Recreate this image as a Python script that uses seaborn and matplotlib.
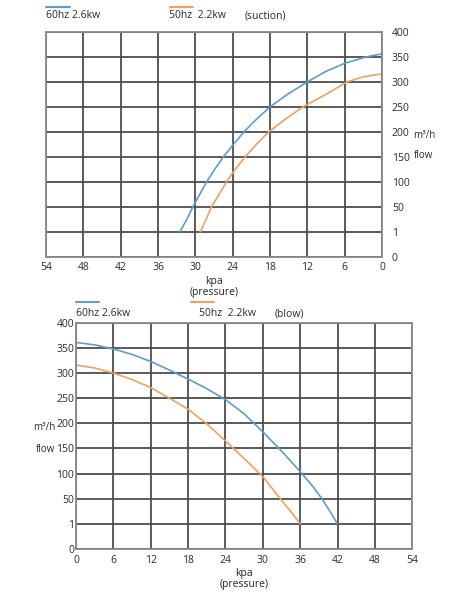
import numpy as np
import pandas as pd
import matplotlib
matplotlib.use("Agg")
import matplotlib.pyplot as plt
from matplotlib.lines import Line2D
import seaborn as sns

# y tick levels (the chart uses an uneven scale: 0, 1, then steps of 50)
y_levels = [0, 1, 50, 100, 150, 200, 250, 300, 350, 400]
x_ticks = [0, 6, 12, 18, 24, 30, 36, 42, 48, 54]

# suction curves (kpa, m3/h)
suc_60_kpa = [32.5, 31.4, 30.4, 29.3, 28.2, 26.9, 25.5, 24, 22.2, 20.2, 18, 15.2, 12, 9, 6, 2.5, 0]
suc_60_flow = [1, 25, 50, 75, 100, 125, 150, 173, 200, 225, 250, 275, 300, 321, 337, 350, 356]
suc_50_kpa = [29.2, 28.3, 27.4, 26.2, 25.0, 23.6, 22.0, 20.2, 18.2, 15.6, 12.7, 9.0, 5.6, 3, 0]
suc_50_flow = [1, 25, 50, 75, 100, 125, 150, 175, 200, 225, 250, 275, 300, 310, 316]

# blow curves (kpa, m3/h)
blow_60_kpa = [0, 3, 6, 9, 12, 15, 18, 21, 24, 27, 30, 33, 36, 38, 39.5, 40.8, 42]
blow_60_flow = [361, 356, 348, 337, 323, 306, 288, 269, 247, 219, 183, 145, 104, 75, 50, 25, 1]
blow_50_kpa = [0, 3, 6, 9, 12, 15, 18, 21, 24, 27, 30, 32.8, 34.5, 36]
blow_50_flow = [316, 310, 300, 287, 271, 250, 228, 199, 165, 130, 94, 50, 25, 1]

BLUE = "#5f9bcf"
ORANGE = "#f0a063"
GRID = "#4d4d4d"

sns.set_style("white")
plt.rcParams["font.family"] = ["Open Sans", "DejaVu Sans"]
plt.rcParams["text.color"] = "#2b2b2b"


def fwd(v):
    return np.interp(v, y_levels, np.arange(len(y_levels)))


def inv(v):
    return np.interp(v, np.arange(len(y_levels)), y_levels)


def make_df(k60, f60, k50, f50):
    a = pd.DataFrame({"kpa": k60, "flow": f60, "s": "60hz"})
    b = pd.DataFrame({"kpa": k50, "flow": f50, "s": "50hz"})
    return pd.concat([a, b], ignore_index=True)


def style_ax(ax, ypad):
    ax.set_yscale("function", functions=(fwd, inv))
    ax.set_ylim(0, 400)
    ax.set_yticks(y_levels)
    ax.set_yticklabels([str(v) for v in y_levels])
    ax.set_xticks(x_ticks)
    ax.set_xticklabels([str(v) for v in x_ticks])
    ax.grid(True, color=GRID, linewidth=1.3)
    ax.set_axisbelow(True)
    for sp in ax.spines.values():
        sp.set_color("#888888")
        sp.set_linewidth(1.3)
    ax.tick_params(axis="both", labelsize=7.5, colors="#2b2b2b", length=0)
    ax.tick_params(axis="x", pad=4)
    ax.tick_params(axis="y", pad=ypad)
    ax.set_xlabel("kpa\n(pressure)", fontsize=7.5, linespacing=1.0, labelpad=2)
    ax.set_ylabel("")
    if ax.get_legend():
        ax.get_legend().remove()


fig = plt.figure(figsize=(4.7, 6), dpi=100)

# top: suction
ax1 = fig.add_axes([0.098, 0.572, 0.715, 0.375])
sns.lineplot(data=make_df(suc_60_kpa, suc_60_flow, suc_50_kpa, suc_50_flow),
             x="kpa", y="flow", hue="s", palette={"60hz": BLUE, "50hz": ORANGE},
             sort=False, linewidth=1.2, ax=ax1)
style_ax(ax1, 7)
ax1.set_xlim(54, 0)
ax1.yaxis.tick_right()

# bottom: blow
ax2 = fig.add_axes([0.162, 0.085, 0.715, 0.377])
sns.lineplot(data=make_df(blow_60_kpa, blow_60_flow, blow_50_kpa, blow_50_flow),
             x="kpa", y="flow", hue="s", palette={"60hz": BLUE, "50hz": ORANGE},
             sort=False, linewidth=1.2, ax=ax2)
style_ax(ax2, 1.5)
ax2.set_xlim(0, 54)

W, H = 470, 600


def px_line(x0, x1, y, color):
    fig.add_artist(Line2D([x0 / W, x1 / W], [1 - y / H, 1 - y / H],
                          color=color, linewidth=1.5))


def px_text(x, y, s, size=7.5, **kw):
    fig.text(x / W, 1 - y / H, s, va="center", ha="left", fontsize=size, **kw)


# top legend
px_line(46, 70, 7, BLUE)
px_line(170, 193, 7, ORANGE)
px_text(46, 16, "60hz 2.6kw")
px_text(169, 16, "50hz  2.2kw")
px_text(245, 16, "(suction)")
px_text(413, 135, "m³/h", 7)
px_text(414, 155, "flow", 7)

# bottom legend
px_line(76, 99, 302, BLUE)
px_line(191, 214, 302, ORANGE)
px_text(76, 314, "60hz 2.6kw")
px_text(199, 314, "50hz  2.2kw")
px_text(275, 314, "(blow)")
fig.text(55 / W, 1 - 427 / H, "m³/h", va="center", ha="right", fontsize=7)
fig.text(55 / W, 1 - 449 / H, "flow", va="center", ha="right", fontsize=7)

fig.savefig("out.png", dpi=100)
